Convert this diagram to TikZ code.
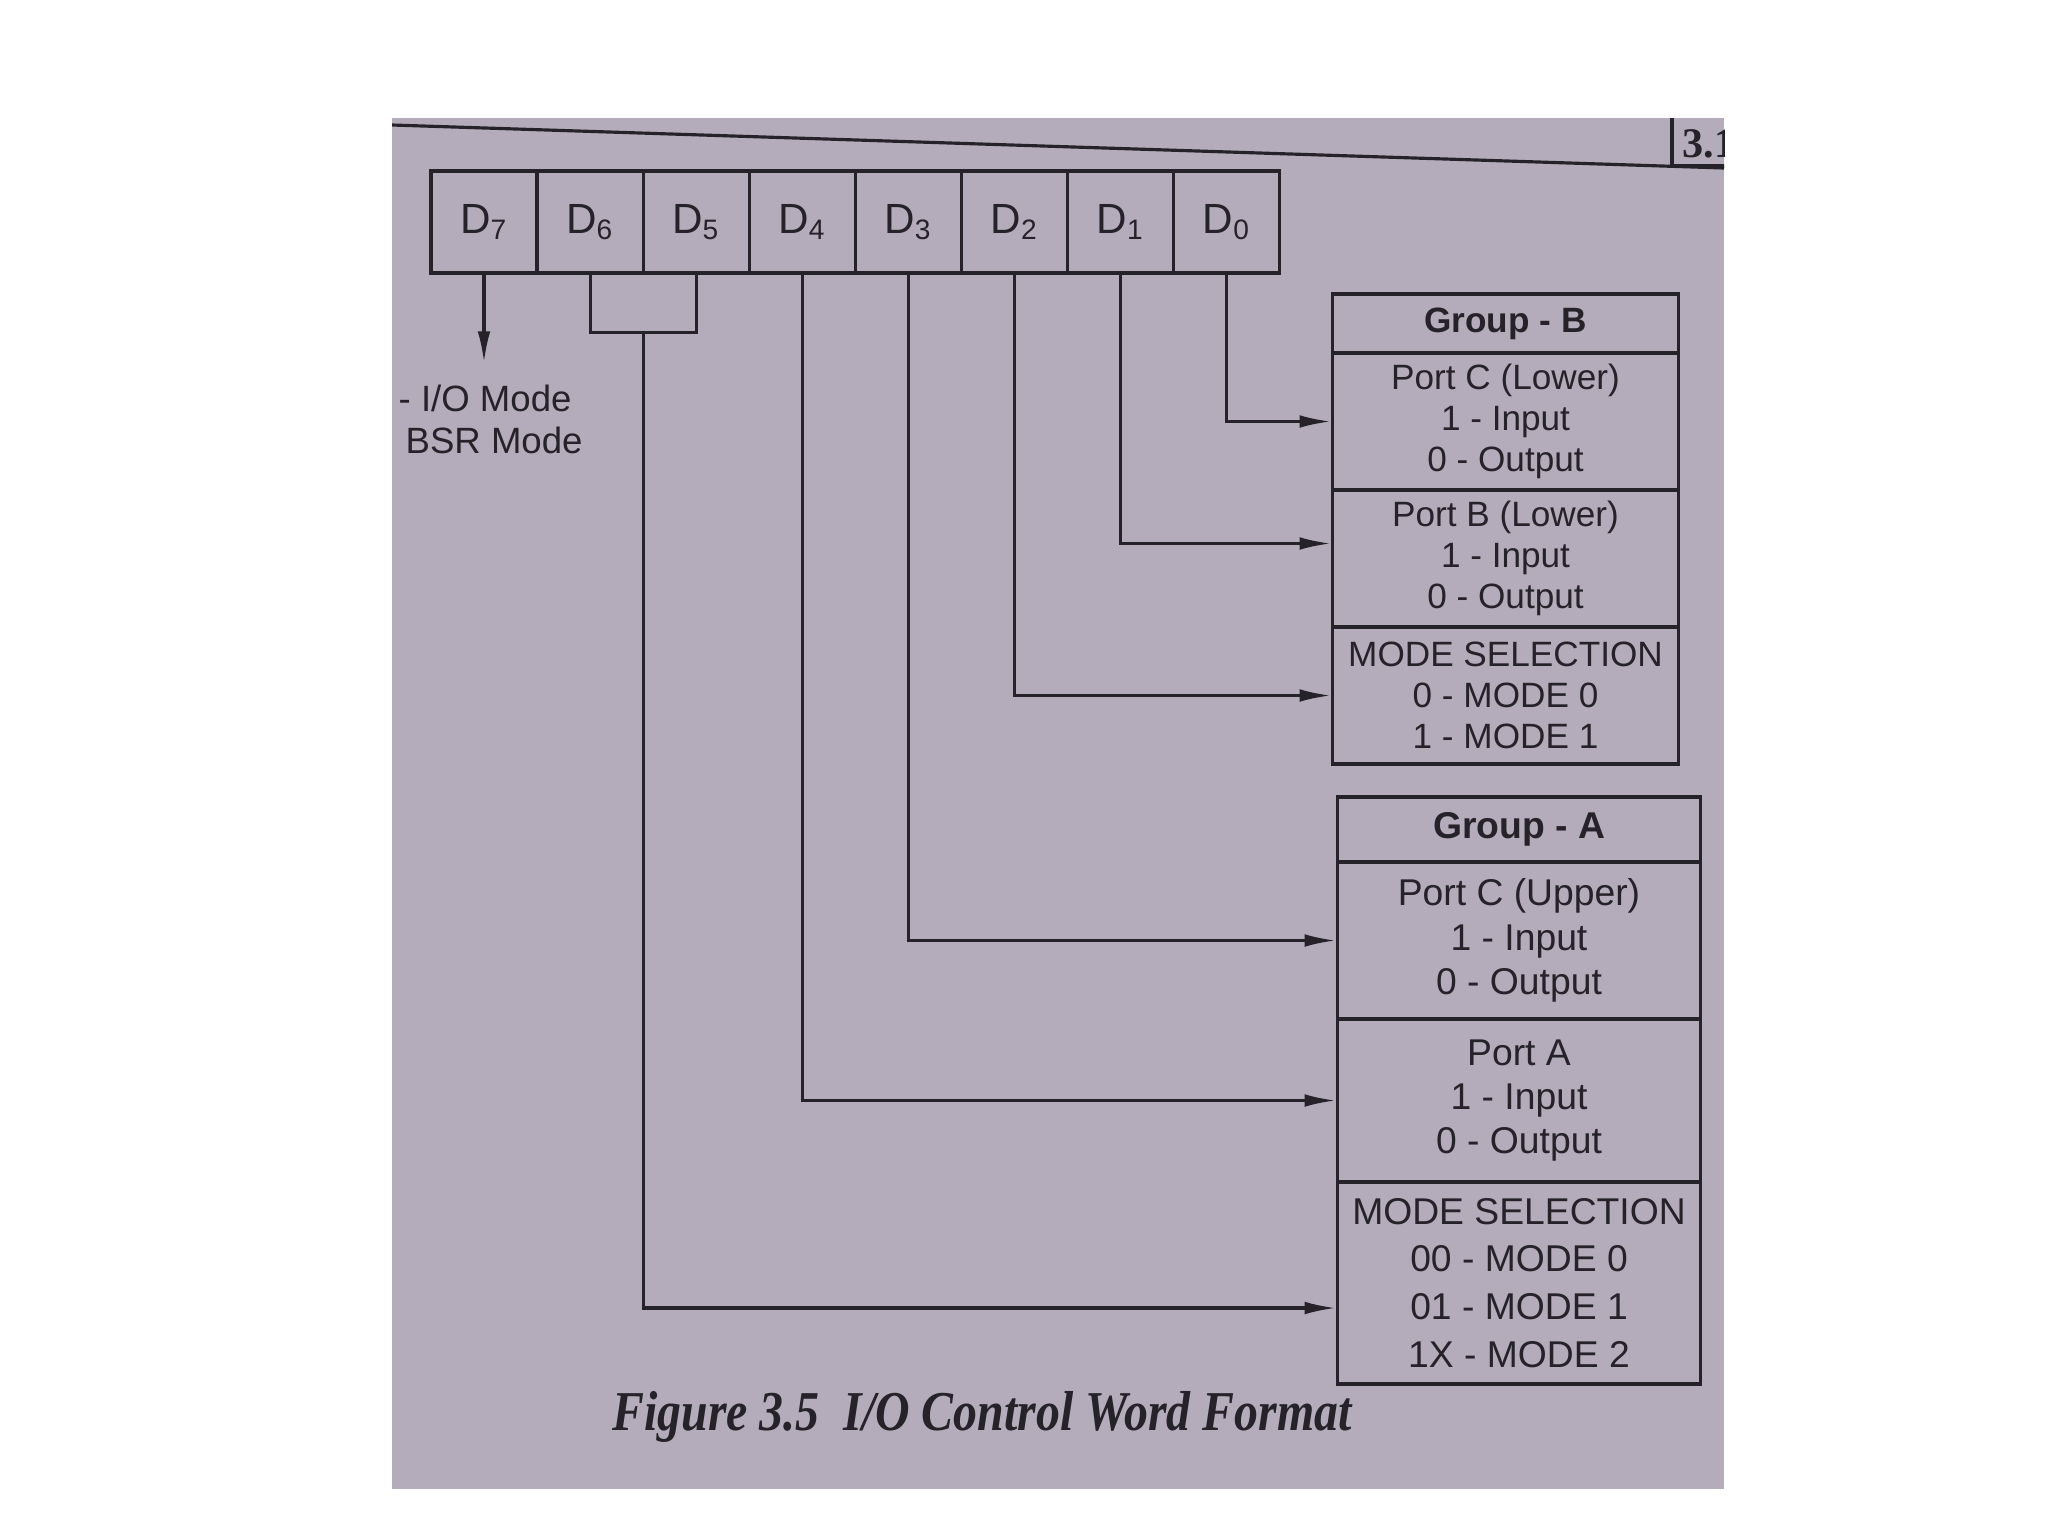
\documentclass[tikz,border=0pt]{standalone}
\usepackage{fontspec}
\usepackage{graphicx}
\setmainfont{Liberation Sans}
\newfontfamily\capfont{Liberation Serif}
\usetikzlibrary{arrows.meta,calc}
\definecolor{pagebg}{RGB}{180,172,186}
\definecolor{ink}{RGB}{38,34,42}
\tikzset{
  ln/.style={draw=ink,line width=0.9pt},
  conn/.style={ln,-{Latex[length=9pt,width=3.6pt]}},
  bitbox/.style={ln,minimum width=1.061cm,minimum height=1.02cm,inner sep=0pt,text=ink,font=\fontsize{12}{14}\selectfont},
  secB/.style={ln,minimum width=3.45cm,inner sep=0pt,align=center,text=ink,font=\fontsize{10}{11.6}\selectfont},
  secA/.style={ln,minimum width=3.62cm,inner sep=0pt,align=center,text=ink,font=\fontsize{10.6}{12.6}\selectfont},
  lbl/.style={inner sep=0pt,text=ink,font=\fontsize{10.4}{12}\selectfont}
}
\begin{document}
\begin{tikzpicture}[x=0.01cm,y=-0.01cm]
\useasboundingbox (0,0) rectangle (2048,1536);
\fill[white] (0,0) rectangle (2048,1536);
\fill[pagebg] (392,118) rectangle (1724,1489);
\begin{scope}
\clip (392,118) rectangle (1724,1489);
% header rule and page number box
\draw[ln] (392,125) -- (1724,168);
\draw[ln] (1672,100) -- (1672,166) -- (1760,166);
\node[anchor=base west,inner sep=0pt,text=ink,font=\capfont\bfseries\fontsize{12}{14}\selectfont] (pgno) at (1682,157) {3.1};
\end{scope}
% bit cells
\foreach \i/\n in {0/7,1/6,2/5,3/4,4/3,5/2,6/1,7/0}{
  \node[bitbox] (b\n) at ({484+106.1*\i},222) {D\textsubscript{\n}};
}
% Group B
\node[secB,minimum height=0.59cm] (gB) at (1505.5,323.5) {\textbf{Group - B}};
\node[secB,minimum height=1.37cm] (pcl) at (1505.5,421.5) {Port C (Lower)\\1 - Input\\0 - Output};
\node[secB,minimum height=1.37cm] (pbl) at (1505.5,558.5) {Port B (Lower)\\1 - Input\\0 - Output};
\node[secB,minimum height=1.37cm] (mB) at (1505.5,695.5) {MODE SELECTION\\0 - MODE 0\\1 - MODE 1};
% Group A
\node[secA,minimum height=0.65cm] (gA) at (1519,829.5) {\textbf{Group - A}};
\node[secA,minimum height=1.57cm] (pcu) at (1519,940.5) {Port C (Upper)\\1 - Input\\0 - Output};
\node[secA,minimum height=1.63cm] (pa) at (1519,1100.5) {Port A\\1 - Input\\0 - Output};
\node[secA,minimum height=2.02cm,font=\fontsize{10.6}{13.6}\selectfont] (mA) at (1519,1283) {MODE SELECTION\\00 - MODE 0\\01 - MODE 1\\1X - MODE 2};
% D7 arrow and labels
\coordinate (d7end) at (484,363);
\draw[conn] (b7.south) -- (d7end);
\node[lbl,anchor=base west] (iomode) at (398,411) {- I/O Mode};
\node[lbl,anchor=base west] (bsrmode) at (405,453) {BSR Mode};
% D6 D5 bracket
\draw[ln] (b6.south) -- ++(0,58) -| (b5.south);
\coordinate (br) at ($(b6.south)!0.5!(b5.south)+(0,58)$);
\draw[conn] (br) |- ([yshift=-0.25cm]mA.west);
% other bits
\draw[conn] (b4.south) |- (pa.west);
\draw[conn] (b3.south) |- (pcu.west);
\draw[conn] (b2.south) |- (mB.west);
\draw[conn] (b1.south) |- ([yshift=0.15cm]pbl.west);
\draw[conn] (b0.south) |- (pcl.west);
% caption
\node[inner sep=0pt,text=ink] (caption) at (982,1417) {\scalebox{0.85}[1]{\capfont\bfseries\itshape\fontsize{16}{18}\selectfont Figure 3.5\ \ I/O Control Word Format}};
\end{tikzpicture}
\end{document}
